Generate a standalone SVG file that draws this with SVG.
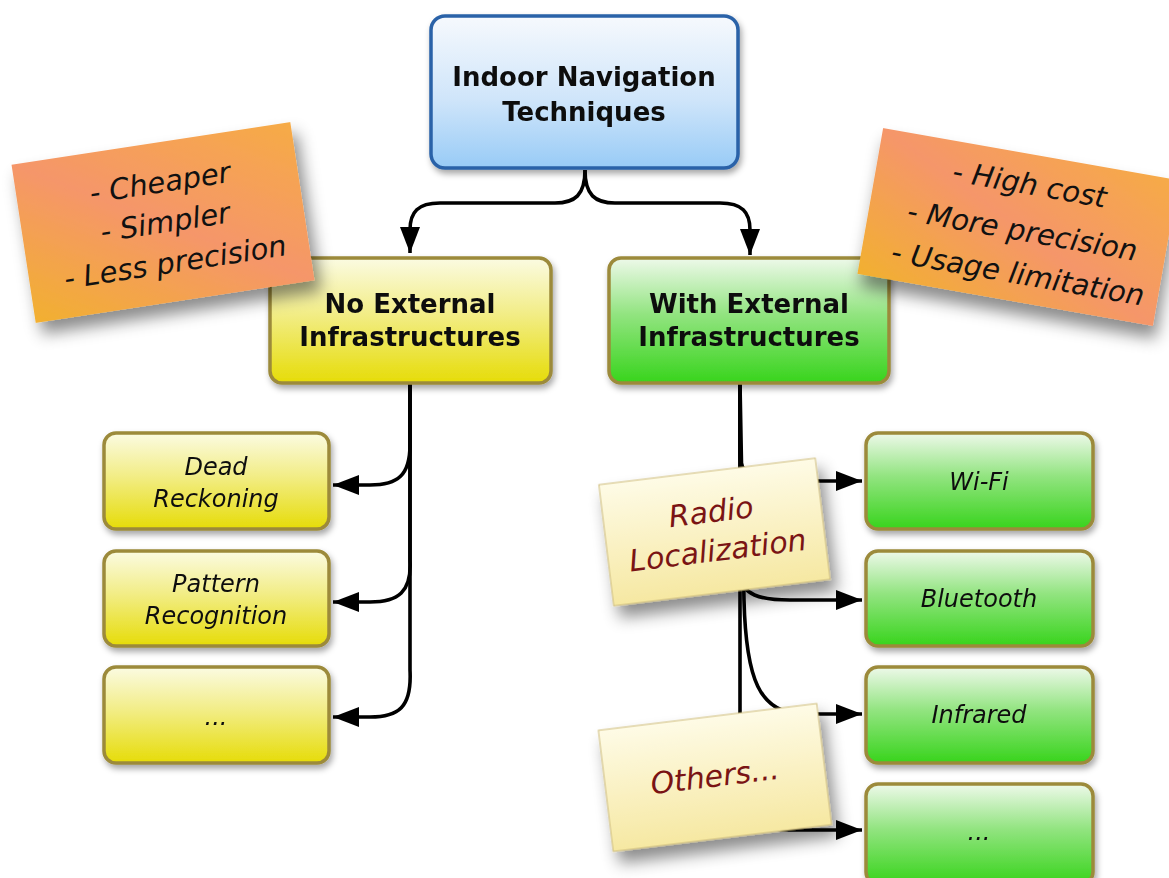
<svg xmlns="http://www.w3.org/2000/svg" width="1169" height="878" viewBox="0 0 1169 878">
<defs>
<linearGradient id="gBlue" x1="0" y1="0" x2="0" y2="1"><stop offset="0" stop-color="#f6f9fd"/><stop offset="0.55" stop-color="#cfe5fa"/><stop offset="1" stop-color="#98cbf6"/></linearGradient>
<linearGradient id="gYellow" x1="0" y1="0" x2="0" y2="1"><stop offset="0" stop-color="#fbfbe2"/><stop offset="0.45" stop-color="#f2ed86"/><stop offset="1" stop-color="#e6dc08"/></linearGradient>
<linearGradient id="gGreen" x1="0" y1="0" x2="0" y2="1"><stop offset="0" stop-color="#eef9ea"/><stop offset="0.45" stop-color="#92e480"/><stop offset="1" stop-color="#38d41c"/></linearGradient>
<linearGradient id="gOrange" x1="0" y1="1" x2="1" y2="0"><stop offset="0" stop-color="#f2b030"/><stop offset="0.5" stop-color="#f5966a"/><stop offset="1" stop-color="#f6ab46"/></linearGradient>
<linearGradient id="gSticky" x1="0" y1="0" x2="0" y2="1"><stop offset="0" stop-color="#fefbe6"/><stop offset="1" stop-color="#f6e8a2"/></linearGradient>
<filter id="shNode" x="-10%" y="-10%" width="125%" height="135%"><feDropShadow dx="2" dy="4" stdDeviation="3" flood-color="#000" flood-opacity="0.35"/></filter>
<filter id="shNote" x="-20%" y="-20%" width="145%" height="160%"><feDropShadow dx="5" dy="12" stdDeviation="8" flood-color="#000" flood-opacity="0.45"/></filter>
<marker id="arr" markerUnits="userSpaceOnUse" markerWidth="28" markerHeight="22" refX="26" refY="10" orient="auto"><path d="M0,0 L26,10 L0,20 z" fill="#000"/></marker>
<style>
.box{stroke:#9c8a3a;stroke-width:3.5}
.t{font-family:"DejaVu Sans","Liberation Sans",sans-serif;font-weight:bold;font-size:26px;fill:#111;text-anchor:middle}
.ti{font-family:"DejaVu Sans","Liberation Sans",sans-serif;font-style:italic;font-size:24px;fill:#111;text-anchor:middle}
.c{fill:none;stroke:#000;stroke-width:3.6}
.hand{font-family:"DejaVu Sans","Liberation Sans",sans-serif;font-style:italic;font-size:29px;fill:#111;text-anchor:middle}
.handr{font-family:"DejaVu Sans","Liberation Sans",sans-serif;font-style:italic;font-size:30px;fill:#7a1414;text-anchor:middle}
</style>
</defs>
<rect width="1169" height="878" fill="#fff"/>

<g id="connectors">
<path class="c" d="M585,170 C585,195 575,203 555,203 L440,203 C418,203 410,212 410,230 L410,253" marker-end="url(#arr)"/>
<path class="c" d="M585,170 C585,195 595,203 615,203 L720,203 C742,203 750,212 750,230 L750,255" marker-end="url(#arr)"/>
<path class="c" d="M410,383 L410,445 C410,475 398,485 370,485 L333,485" marker-end="url(#arr)"/>
<path class="c" d="M410,383 L410,560 C412,592 398,602 370,602 L333,602" marker-end="url(#arr)"/>
<path class="c" d="M410,383 L410,670 C412,708 398,717 370,717 L333,717" marker-end="url(#arr)"/>
<path class="c" d="M740,383 L740,455 C740,475 755,481 780,481 L862,481" marker-end="url(#arr)"/>
<path class="c" d="M740,383 L740,575 C742,595 760,600 790,600 L862,600" marker-end="url(#arr)"/>
<path class="c" d="M740,383 L744,600 C746,680 760,712 800,714 L862,714" marker-end="url(#arr)"/>
<path class="c" d="M740,383 L740,790 C740,820 760,830 790,830 L862,830" marker-end="url(#arr)"/>
</g>

<g id="root" filter="url(#shNode)">
<rect x="431" y="16" width="307" height="152" rx="14" fill="url(#gBlue)" stroke="#2a62a8" stroke-width="3.5"/>
<text class="t" x="584" y="86">Indoor Navigation</text>
<text class="t" x="584" y="121">Techniques</text>
</g>

<g id="noext" filter="url(#shNode)">
<rect class="box" x="270" y="258" width="281" height="125" rx="12" fill="url(#gYellow)"/>
<text class="t" x="410" y="313">No External</text>
<text class="t" x="410" y="346">Infrastructures</text>
</g>

<g id="withext" filter="url(#shNode)">
<rect class="box" x="609" y="258" width="280" height="125" rx="12" fill="url(#gGreen)"/>
<text class="t" x="749" y="313">With External</text>
<text class="t" x="749" y="346">Infrastructures</text>
</g>

<g id="dead" filter="url(#shNode)">
<rect class="box" x="104" y="433" width="225" height="96" rx="12" fill="url(#gYellow)"/>
<text class="ti" x="216" y="475">Dead</text>
<text class="ti" x="216" y="507">Reckoning</text>
</g>
<g id="pattern" filter="url(#shNode)">
<rect class="box" x="104" y="551" width="225" height="95" rx="12" fill="url(#gYellow)"/>
<text class="ti" x="216" y="592">Pattern</text>
<text class="ti" x="216" y="624">Recognition</text>
</g>
<g id="leftmore" filter="url(#shNode)">
<rect class="box" x="104" y="667" width="225" height="96" rx="12" fill="url(#gYellow)"/>
<text class="ti" x="216" y="725">...</text>
</g>

<g id="wifi" filter="url(#shNode)">
<rect class="box" x="866" y="433" width="227" height="96" rx="12" fill="url(#gGreen)"/>
<text class="ti" x="979" y="490">Wi-Fi</text>
</g>
<g id="bluetooth" filter="url(#shNode)">
<rect class="box" x="866" y="551" width="227" height="95" rx="12" fill="url(#gGreen)"/>
<text class="ti" x="979" y="607">Bluetooth</text>
</g>
<g id="infrared" filter="url(#shNode)">
<rect class="box" x="866" y="667" width="227" height="96" rx="12" fill="url(#gGreen)"/>
<text class="ti" x="979" y="723">Infrared</text>
</g>
<g id="rightmore" filter="url(#shNode)">
<rect class="box" x="866" y="784" width="227" height="100" rx="12" fill="url(#gGreen)"/>
<text class="ti" x="979" y="840">...</text>
</g>

<g id="note-left" transform="translate(163,222.5) rotate(-8.7)">
<rect x="-141" y="-80" width="282" height="160" fill="url(#gOrange)" filter="url(#shNote)"/>
<text class="hand" x="3" y="-30">- Cheaper</text>
<text class="hand" x="2" y="10">- Simpler</text>
<text class="hand" x="6" y="51">- Less precision</text>
</g>

<g id="note-right" transform="translate(1018,227) rotate(10)">
<rect x="-150" y="-74" width="300" height="148" fill="url(#gOrange)" filter="url(#shNote)"/>
<text class="hand" x="4" y="-34">- High cost</text>
<text class="hand" x="5" y="13">- More precision</text>
<text class="hand" x="8" y="56">- Usage limitation</text>
</g>

<g id="radio" transform="translate(714.5,532) rotate(-7)">
<rect x="-109" y="-61" width="218" height="122" fill="url(#gSticky)" stroke="#cdbb7a" stroke-width="1" filter="url(#shNote)"/>
<text class="handr" x="-1" y="-10">Radio</text>
<text class="handr" x="1" y="29">Localization</text>
</g>

<g id="others" transform="translate(715,777.5) rotate(-7)">
<rect x="-110" y="-61" width="220" height="122" fill="url(#gSticky)" stroke="#cdbb7a" stroke-width="1" filter="url(#shNote)"/>
<text class="handr" x="0" y="9">Others...</text>
</g>
</svg>
